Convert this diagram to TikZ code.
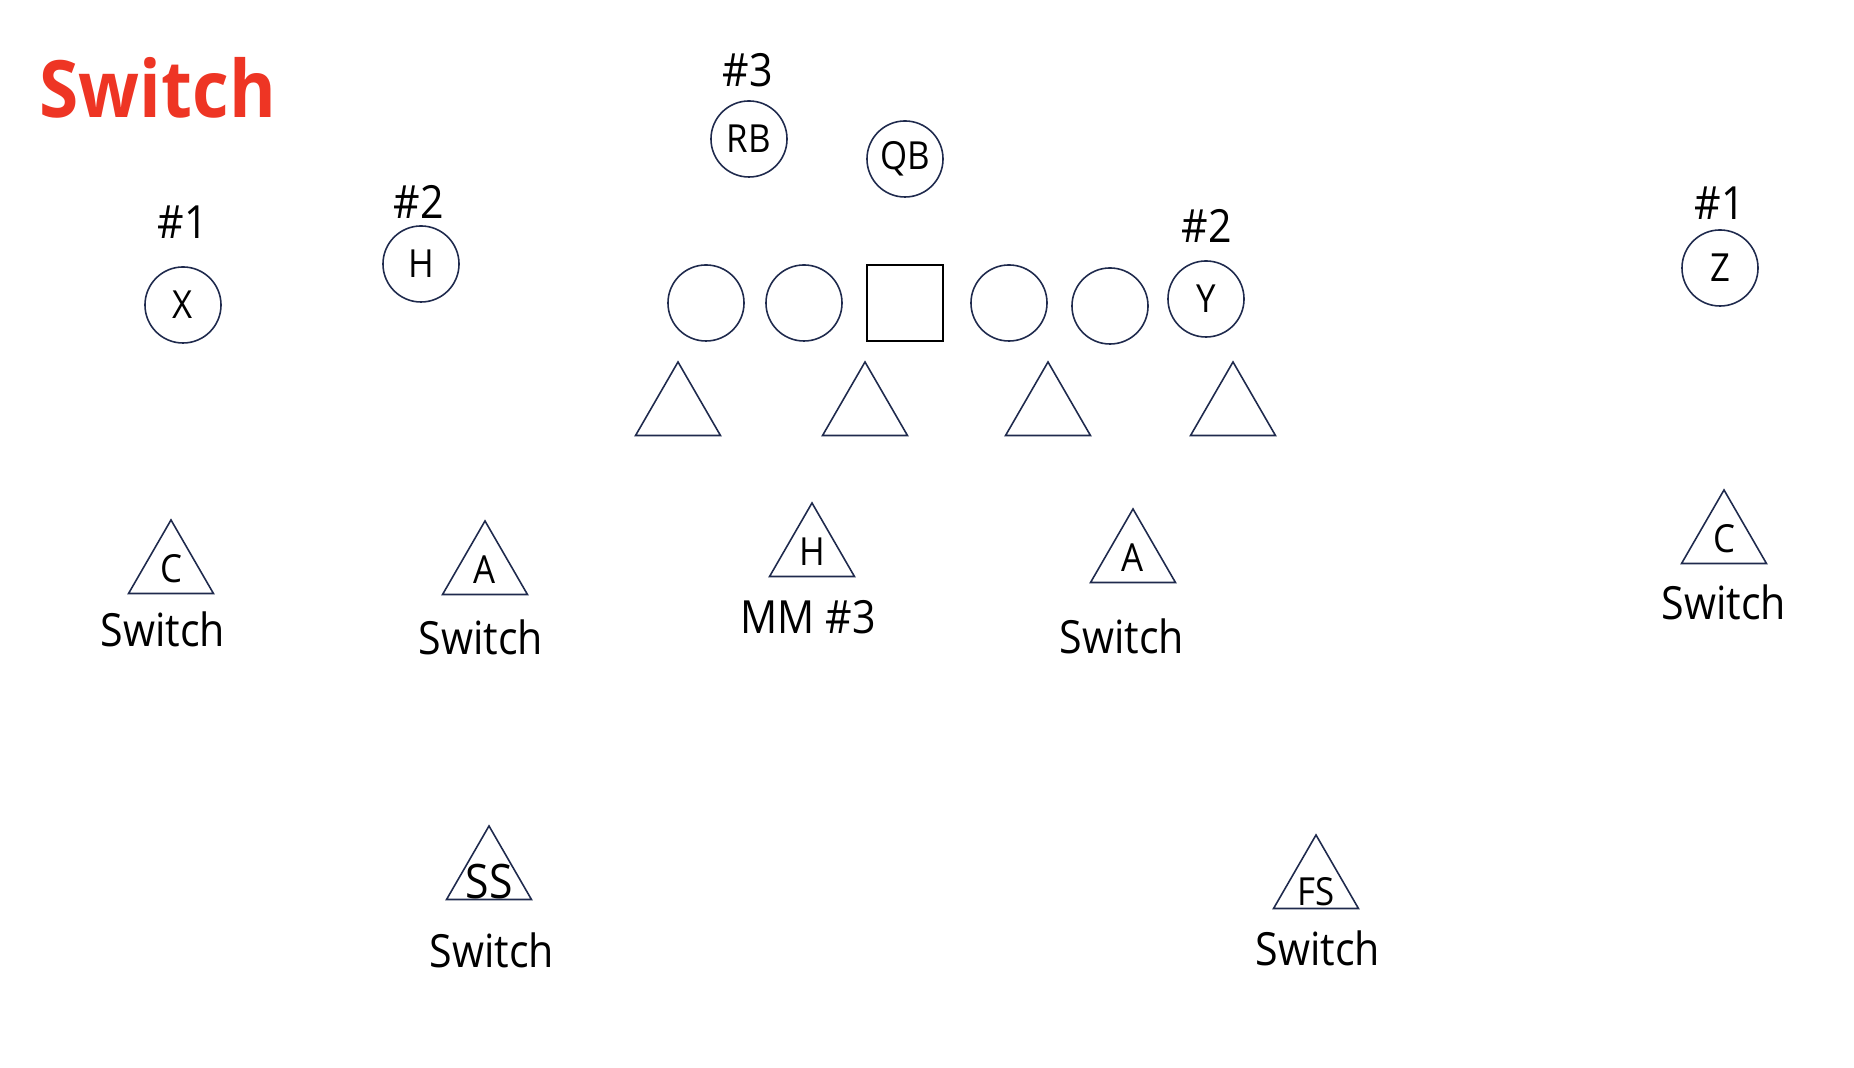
\documentclass[tikz,border=0pt]{standalone}
\usepackage{fontspec}
\setmainfont[FakeStretch=0.9]{Open Sans}
\usetikzlibrary{shapes.geometric}
\definecolor{titlered}{HTML}{EE3524}
\definecolor{navy}{HTML}{1F2A4D}
\tikzset{
  player/.style={circle, draw=navy, line width=0.45pt, minimum size=0.76cm, inner sep=0pt,
              font=\fontsize{11}{13}\selectfont},
  snapbox/.style={rectangle, draw=black, line width=0.6pt, minimum size=0.76cm, inner sep=0pt},
  defender/.style={regular polygon, regular polygon sides=3, draw=navy, line width=0.45pt,
              minimum size=0.98cm, inner sep=0pt, font=\fontsize{11}{13}\selectfont},
  tag/.style={font=\fontsize{13}{15}\selectfont, inner sep=0pt},
}

\begin{document}
\begin{tikzpicture}[x=0.01cm, y=-0.01cm]
        \useasboundingbox (0,0) rectangle (1854,1068);
        \node[font=\fontsize{22.5}{26}\selectfont\bfseries, text=titlered, anchor=base west, inner sep=0pt] (title) at (39,118) {Switch};
        % offense
        \node[player] (x) at (183,305) {X};
        \node[tag] (xnum) at (183,222) {\#1};
        \node[player] (h) at (421,264) {H};
        \node[tag] (hnum) at (419,202) {\#2};
        \node[player] (rb) at (749,139) {RB};
        \node[tag] (rbnum) at (748,70) {\#3};
        \node[player] (qb) at (905,159) {QB};
        \node[player] (lt) at (706,303) {};
        \node[player] (lg) at (804,303) {};
        \node[snapbox] (c) at (905,303) {};
        \node[player] (rg) at (1009,303) {};
        \node[player] (rt) at (1110,306) {};
        \node[player] (y) at (1206,299) {Y};
        \node[tag] (ynum) at (1207,226) {\#2};
        \node[player] (z) at (1720,268) {Z};
        \node[tag] (znum) at (1720,203) {\#1};
        % defense
        \node[defender] (dl1) at (678,411) {};
        \node[defender] (dl2) at (865,411) {};
        \node[defender] (dl3) at (1048,411) {};
        \node[defender] (dl4) at (1233,411) {};
        \node[defender] (lc) at (171,569) {C};
        \node[tag] (lcrule) at (163,629) {Switch};
        \node[defender] (la) at (485,570) {A};
        \node[tag] (larule) at (481,637) {Switch};
        \node[defender] (mh) at (812,552) {H};
        \node[tag] (mhrule) at (808,617) {MM \#3};
        \node[defender] (ra) at (1133,558) {A};
        \node[tag] (rarule) at (1122,636) {Switch};
        \node[defender] (rc) at (1724,539) {C};
        \node[tag] (rcrule) at (1724,602) {Switch};
        \node[defender] (ss) at (489,875) {};
        \node[font=\fontsize{13.5}{15}\selectfont, inner sep=0pt] (sstext) at (489,882) {SS};
        \node[tag] (ssrule) at (492,950) {Switch};
        \node[defender] (fs) at (1316,884) {};
        \node[font=\fontsize{11}{13}\selectfont, inner sep=0pt] (fstext) at (1316,892) {FS};
        \node[tag] (fsrule) at (1318,948) {Switch};
      \end{tikzpicture}
\end{document}
